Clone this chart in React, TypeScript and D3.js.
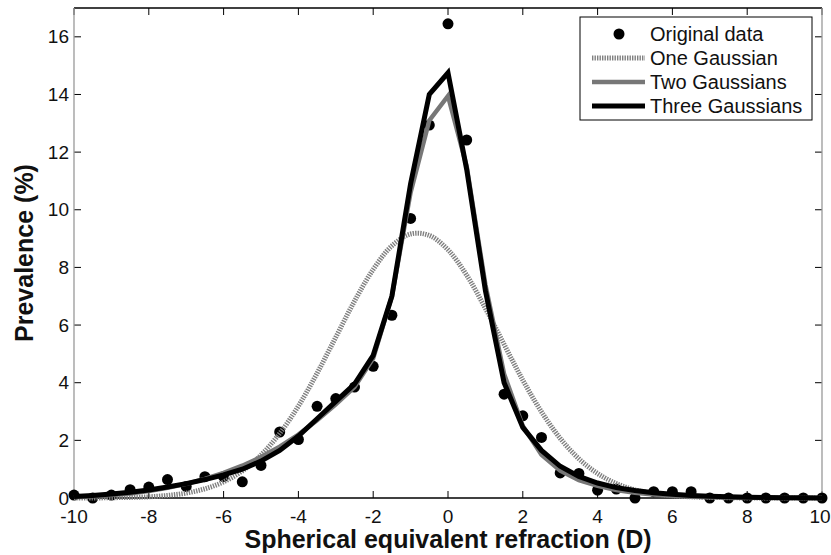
import React from "react";
import * as d3 from "d3";

const refraction = [-10, -9.5, -9, -8.5, -8, -7.5, -7, -6.5, -6, -5.5, -5, -4.5, -4, -3.5, -3, -2.5, -2, -1.5, -1, -0.5, 0, 0.5, 1, 1.5, 2, 2.5, 3, 3.5, 4, 4.5, 5, 5.5, 6, 6.5, 7, 7.5, 8, 8.5, 9, 9.5, 10];

const originalData: (number | null)[] = [0.1, 0.0, 0.1, 0.29, 0.38, 0.64, 0.4, 0.74, 0.74, 0.56, 1.13, 2.29, 2.03, 3.18, 3.45, 3.85, 4.57, 6.34, 9.7, 12.94, 16.45, 12.42, null, 3.6, 2.85, 2.1, 0.87, 0.85, 0.27, 0.31, 0.0, 0.22, 0.22, 0.22, 0.0, 0.0, 0.0, 0.0, 0.0, 0.0, 0.0];

const oneGaussian = [0.0, 0.0, 0.01, 0.02, 0.04, 0.09, 0.17, 0.32, 0.56, 0.94, 1.49, 2.24, 3.19, 4.33, 5.58, 6.83, 7.93, 8.75, 9.16, 9.11, 8.61, 7.73, 6.58, 5.33, 4.09, 2.99, 2.07, 1.36, 0.85, 0.5, 0.28, 0.15, 0.08, 0.04, 0.02, 0.01, 0.0, 0.0, 0.0, 0.0, 0.0];

const twoGaussians = [0.03, 0.06, 0.1, 0.16, 0.24, 0.35, 0.49, 0.66, 0.87, 1.12, 1.42, 1.78, 2.2, 2.7, 3.25, 3.85, 4.85, 7.0, 10.6, 13.1, 13.95, 11.5, 7.4, 4.3, 2.5, 1.5, 0.95, 0.62, 0.42, 0.28, 0.18, 0.12, 0.08, 0.05, 0.03, 0.02, 0.01, 0.01, 0.0, 0.0, 0.0];

const threeGaussians = [0.05, 0.09, 0.14, 0.2, 0.28, 0.38, 0.5, 0.64, 0.8, 1.0, 1.28, 1.65, 2.15, 2.75, 3.35, 3.95, 4.95, 7.0, 10.9, 14.0, 14.75, 11.4, 7.2, 4.0, 2.45, 1.65, 1.1, 0.75, 0.52, 0.36, 0.26, 0.18, 0.13, 0.09, 0.06, 0.04, 0.03, 0.02, 0.01, 0.01, 0.0];

const xTicks = [-10, -8, -6, -4, -2, 0, 2, 4, 6, 8, 10];
const yTicks = [0, 2, 4, 6, 8, 10, 12, 14, 16];
const legendLabels = ["Original data", "One Gaussian", "Two Gaussians", "Three Gaussians"];

const W = 831;
const H = 555;
const M = { left: 74, right: 822, top: 8, bottom: 498 };

export default function App() {
  const x = d3.scaleLinear().domain([-10, 10]).range([M.left, M.right]);
  const y = d3.scaleLinear().domain([0, 17]).range([M.bottom, M.top]);

  const mk = (vals: number[]) =>
    d3.line<number>().x((_, i) => x(refraction[i])).y((v) => y(v))(vals) || "";
  const smooth = (vals: number[]) =>
    d3
      .line<number>()
      .x((_, i) => x(refraction[i]))
      .y((v) => y(v))
      .curve(d3.curveCatmullRom)(vals) || "";

  const font = "'Liberation Sans', Arial, Helvetica, sans-serif";
  const tickLen = 7;

  const styles = [
    { stroke: "#808080", width: 5, dash: "1.4 1.1" },
    { stroke: "#777", width: 4.5, dash: undefined },
    { stroke: "#000", width: 5, dash: undefined },
  ];

  const lg = { x0: 580, y0: 17, x1: 812, y1: 120, lineX0: 592, lineX1: 645, textX: 650, rowY: [34, 58, 82, 106] };

  return (
    <svg
      width={W}
      height={H}
      viewBox={`0 0 ${W} ${H}`}
      style={{ position: "absolute", left: 0, top: 0, background: "#fff" }}
      fontFamily={font}
    >
      <rect x={0} y={0} width={W} height={H} fill="#fff" />
      <defs>
        <clipPath id="plotclip">
          <rect x={M.left - 8} y={M.top - 10} width={M.right - M.left + 16} height={M.bottom - M.top + 18} />
        </clipPath>
      </defs>

      {xTicks.map((t) => (
        <g key={"xt" + t}>
          <line x1={x(t)} x2={x(t)} y1={M.bottom} y2={M.bottom - tickLen} stroke="#000" strokeWidth={1} />
          <line x1={x(t)} x2={x(t)} y1={M.top} y2={M.top + tickLen} stroke="#000" strokeWidth={1} />
          <text x={t === 10 ? x(t) - 2 : x(t)} y={523} textAnchor="middle" fontSize={19} fill="#111">
            {t}
          </text>
        </g>
      ))}
      {yTicks.map((t) => (
        <g key={"yt" + t}>
          <line x1={M.left} x2={M.left + tickLen} y1={y(t)} y2={y(t)} stroke="#000" strokeWidth={1} />
          <line x1={M.right} x2={M.right - tickLen} y1={y(t)} y2={y(t)} stroke="#000" strokeWidth={1} />
          <text x={69} y={y(t)} textAnchor="end" dominantBaseline="central" fontSize={19} fill="#111">
            {t}
          </text>
        </g>
      ))}

      <line x1={M.left} x2={M.right} y1={M.top} y2={M.top} stroke="#000" strokeWidth={1.5} />
      <line x1={M.left} x2={M.right} y1={M.bottom} y2={M.bottom} stroke="#000" strokeWidth={1.3} />
      <line x1={M.left} x2={M.left} y1={M.top} y2={M.bottom} stroke="#999" strokeWidth={1.3} />
      <line x1={M.right} x2={M.right} y1={M.top} y2={M.bottom} stroke="#999" strokeWidth={1.3} />

      <g clipPath="url(#plotclip)">
        {originalData.map((v, i) =>
          v === null ? null : <circle key={"p" + i} cx={x(refraction[i])} cy={y(v)} r={5.5} fill="#000" />
        )}
        <path d={smooth(oneGaussian)} fill="none" stroke={styles[0].stroke} strokeWidth={styles[0].width} strokeDasharray={styles[0].dash} />
        <path d={mk(twoGaussians)} fill="none" stroke={styles[1].stroke} strokeWidth={styles[1].width} strokeLinejoin="miter" />
        <path d={mk(threeGaussians)} fill="none" stroke={styles[2].stroke} strokeWidth={styles[2].width} strokeLinejoin="miter" />
      </g>

      <rect x={lg.x0} y={lg.y0} width={lg.x1 - lg.x0} height={lg.y1 - lg.y0} fill="#fff" stroke="#000" strokeWidth={1} />
      <circle cx={619} cy={lg.rowY[0]} r={5.5} fill="#000" />
      {styles.map((s, i) => (
        <line
          key={"ll" + i}
          x1={lg.lineX0}
          x2={lg.lineX1}
          y1={lg.rowY[i + 1]}
          y2={lg.rowY[i + 1]}
          stroke={s.stroke}
          strokeWidth={s.width}
          strokeDasharray={s.dash}
        />
      ))}
      {legendLabels.map((l, i) => (
        <text key={"lt" + i} x={lg.textX} y={lg.rowY[i]} dominantBaseline="central" fontSize={20} fill="#111">
          {l}
        </text>
      ))}

      <text x={(M.left + M.right) / 2} y={548} textAnchor="middle" fontSize={25} fontWeight="bold" fill="#111">
        Spherical equivalent refraction (D)
      </text>
      <text
        transform={`translate(33, ${(M.top + M.bottom) / 2}) rotate(-90)`}
        textAnchor="middle"
        fontSize={25}
        fontWeight="bold"
        fill="#111"
      >
        Prevalence (%)
      </text>
    </svg>
  );
}
